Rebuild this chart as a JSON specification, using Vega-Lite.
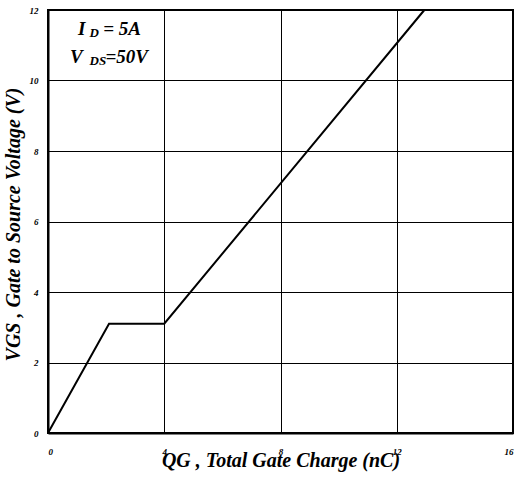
{
  "$schema": "https://vega.github.io/schema/vega-lite/v6.json",
  "width": 465,
  "height": 423,
  "autosize": "none",
  "padding": {"left": 48, "top": 10, "right": 4, "bottom": 47},
  "background": "white",
  "config": {
    "view": {"stroke": "black", "strokeWidth": 2},
    "axis": {
      "labelFont": "Liberation Serif",
      "labelFontStyle": "italic",
      "labelFontWeight": "bold",
      "labelFontSize": 9,
      "labelColor": "black",
      "titleFont": "Liberation Serif",
      "titleFontStyle": "italic",
      "titleFontWeight": "bold",
      "titleColor": "black",
      "gridColor": "black",
      "gridWidth": 1,
      "gridOpacity": 1,
      "domainColor": "black",
      "domainWidth": 2,
      "ticks": false
    }
  },
  "datasets": {
    "curve": [
      {"q": 0, "v": 0},
      {"q": 2.1, "v": 3.1},
      {"q": 4.0, "v": 3.1},
      {"q": 12.95, "v": 12}
    ],
    "notes": [
      {"x": 1.03, "y": 11.29, "t": "I", "kind": "main"},
      {"x": 1.43, "y": 11.22, "t": "D", "kind": "sub"},
      {"x": 1.9, "y": 11.29, "t": "= 5A", "kind": "main"},
      {"x": 0.76, "y": 10.5, "t": "V", "kind": "main"},
      {"x": 1.43, "y": 10.44, "t": "DS", "kind": "sub"},
      {"x": 1.98, "y": 10.5, "t": "=50V", "kind": "main"}
    ]
  },
  "layer": [
    {
      "data": {"name": "curve"},
      "mark": {"type": "line", "color": "black", "strokeWidth": 2},
      "encoding": {
        "x": {
          "field": "q", "type": "quantitative",
          "scale": {"domain": [0, 16], "nice": false},
          "axis": {
            "values": [0, 4, 8, 12, 16],
            "labelPadding": 14,
            "labelBaseline": "top",
            "title": "QG , Total Gate Charge (nC)",
            "titleFontSize": 20,
            "titlePadding": -6
          }
        },
        "y": {
          "field": "v", "type": "quantitative",
          "scale": {"domain": [0, 12], "nice": false},
          "axis": {
            "values": [0, 2, 4, 6, 8, 10, 12],
            "labelPadding": 10,
            "title": "VGS , Gate to Source Voltage (V)",
            "titleFontSize": 20,
            "titlePadding": 6,
            "titleY": 214
          }
        }
      }
    },
    {
      "data": {"name": "notes"},
      "transform": [{"filter": "datum.kind === 'main'"}],
      "mark": {"type": "text", "align": "left", "baseline": "alphabetic", "font": "Liberation Serif", "fontStyle": "italic", "fontWeight": "bold", "fontSize": 19, "color": "black"},
      "encoding": {
        "x": {"field": "x", "type": "quantitative"},
        "y": {"field": "y", "type": "quantitative"},
        "text": {"field": "t"}
      }
    },
    {
      "data": {"name": "notes"},
      "transform": [{"filter": "datum.kind === 'sub'"}],
      "mark": {"type": "text", "align": "left", "baseline": "alphabetic", "font": "Liberation Serif", "fontStyle": "italic", "fontWeight": "bold", "fontSize": 13, "color": "black"},
      "encoding": {
        "x": {"field": "x", "type": "quantitative"},
        "y": {"field": "y", "type": "quantitative"},
        "text": {"field": "t"}
      }
    }
  ]
}
